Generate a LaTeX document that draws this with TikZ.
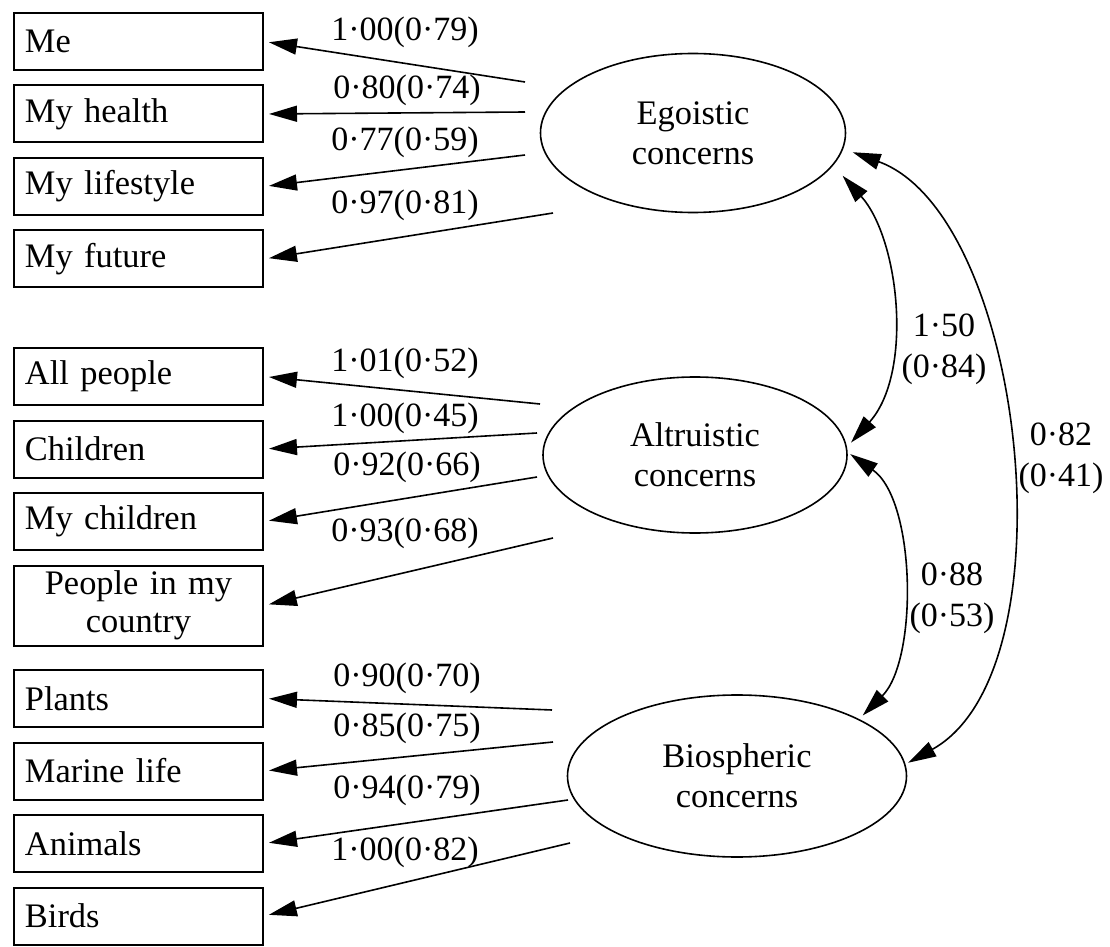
\documentclass[tikz,border=0pt]{standalone}
\usepackage{fontspec}
\setmainfont{Liberation Serif}
\usetikzlibrary{arrows.meta,positioning,shapes.geometric}

\begin{document}
\begin{tikzpicture}[
  x=0.5pt, y=0.5pt,
  node distance=6.75pt,
  item/.style={draw,line width=1pt,minimum height=28.5pt,text width=113.5pt,
               inner xsep=5.5pt,inner ysep=0pt,align=left,
               font=\fontsize{17.2}{19}\selectfont},
  factor/.style={draw,ellipse,line width=0.8pt,inner sep=0pt,align=center,
                 font=\fontsize{17.2}{20}\selectfont},
  coef/.style={inner sep=0pt,align=center,font=\fontsize{17}{20.5}\selectfont},
  load/.style={-{Triangle[length=14pt,width=8pt]},line width=0.8pt,shorten >=2.5pt},
  cov/.style={{Triangle[length=14pt,width=8pt]}-{Triangle[length=14pt,width=8pt]},
              line width=0.8pt}
]
  \useasboundingbox (0,0) rectangle (1110,-947);

  \node[item,anchor=north west] (me) at (13,-12) {Me};
  \node[item,below=of me] (health) {My health};
  \node[item,below=of health] (life) {My lifestyle};
  \node[item,below=of life] (future) {My future};

  \node[item,below=29.25pt of future] (allp) {All people};
  \node[item,below=of allp] (kids) {Children};
  \node[item,below=of kids] (mykids) {My children};
  \node[item,below=of mykids,align=center,minimum height=40pt] (country) {People in my\\country};

  \node[item,below=11.25pt of country] (plants) {Plants};
  \node[item,below=of plants] (marine) {Marine life};
  \node[item,below=of marine] (animals) {Animals};
  \node[item,below=of animals] (birds) {Birds};

  \node[factor,minimum width=152.5pt,minimum height=79.5pt] (ego) at (693,-133) {Egoistic\\concerns};
  \node[factor,minimum width=152pt,minimum height=78pt] (alt) at (695,-455) {Altruistic\\concerns};
  \node[factor,minimum width=169.5pt,minimum height=81pt] (bio) at (737,-776) {Biospheric\\concerns};

  \coordinate (e1) at (525,-82);
  \coordinate (e2) at (525,-112);
  \coordinate (e3) at (525,-155);
  \coordinate (e4) at (553,-213);
  \coordinate (a1) at (540,-404);
  \coordinate (a2) at (537,-433);
  \coordinate (a3) at (537,-477);
  \coordinate (a4) at (553,-538);
  \coordinate (b1) at (552,-710);
  \coordinate (b2) at (553,-742);
  \coordinate (b3) at (568,-800);
  \coordinate (b4) at (570,-843);

  \draw[load] (e1) -- (me.east);
  \draw[load] (e2) -- (health.east);
  \draw[load] (e3) -- (life.east);
  \draw[load] (e4) -- (future.east);
  \draw[load] (a1) -- (allp.east);
  \draw[load] (a2) -- (kids.east);
  \draw[load] (a3) -- (mykids.east);
  \draw[load] (a4) -- (country.east);
  \draw[load] (b1) -- (plants.east);
  \draw[load] (b2) -- (marine.east);
  \draw[load] (b3) -- (animals.east);
  \draw[load] (b4) -- (birds.east);

  \node[coef] (le1) at (405,-32) {1·00(0·79)};
  \node[coef] (le2) at (407,-90) {0·80(0·74)};
  \node[coef] (le3) at (405,-142) {0·77(0·59)};
  \node[coef] (le4) at (405,-205) {0·97(0·81)};
  \node[coef] (la1) at (405,-363) {1·01(0·52)};
  \node[coef] (la2) at (405,-418) {1·00(0·45)};
  \node[coef] (la3) at (407,-467) {0·92(0·66)};
  \node[coef] (la4) at (405,-533) {0·93(0·68)};
  \node[coef] (lb1) at (407,-678) {0·90(0·70)};
  \node[coef] (lb2) at (407,-728) {0·85(0·75)};
  \node[coef] (lb3) at (407,-790) {0·94(0·79)};
  \node[coef] (lb4) at (405,-852) {1·00(0·82)};

  \draw[cov,shorten <=7pt,shorten >=3pt] (ego.-13) to[out=-48,in=48,looseness=0.9] (alt.3);
  \draw[cov,shorten <=1.5pt,shorten >=2.5pt] (alt.1) to[out=-35,in=45,looseness=0.8] (bio.25);
  \draw[cov,shorten <=5pt,shorten >=1.5pt] (ego.-6) to[out=-20,in=29,looseness=0.8] (bio.4);

  \node[coef] (cea) at (944,-349) {1·50\\(0·84)};
  \node[coef] (cab) at (952,-598) {0·88\\(0·53)};
  \node[coef] (ceb) at (1061,-458) {0·82\\(0·41)};
\end{tikzpicture}
\end{document}
